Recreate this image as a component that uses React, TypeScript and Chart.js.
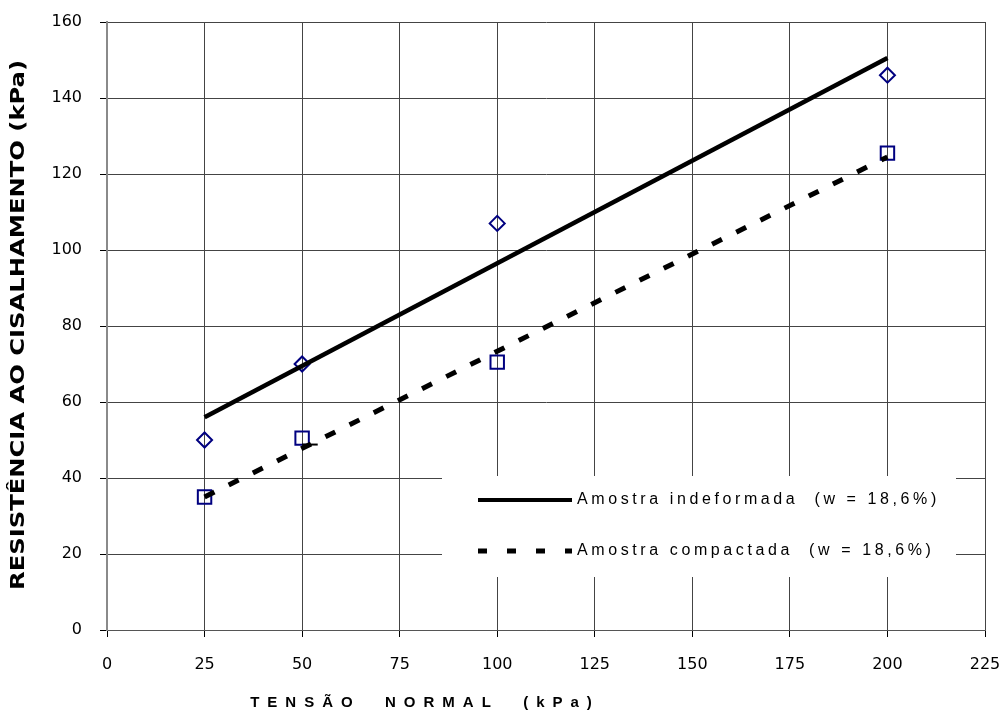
import React, { useEffect, useRef } from "react";
import { Chart, registerables } from "chart.js";

Chart.register(...registerables);

// ---- data ----
const normalStress = [25, 50, 100, 200];
const shearUndisturbed = [50, 70, 107, 146];
const shearCompacted = [35, 50.5, 70.5, 125.5];
const trendX = [25, 200];
const trendUndisturbed = [56, 150.5];
const trendCompacted = [35, 124.5];
const stubX = [50, 54];
const stubY = [48.8, 48.8];
const xTicks = [0, 25, 50, 75, 100, 125, 150, 175, 200, 225];
const yTicks = [0, 20, 40, 60, 80, 100, 120, 140, 160];
const legendLabels = ["Amostra indeformada  (w = 18,6%)", "Amostra compactada  (w = 18,6%)"];
const xTitle = "TENSÃO  NORMAL  (kPa)";
const yTitle = "RESISTÊNCIA AO CISALHAMENTO (kPa)";

const NAVY = "#000080";
const GRID = "#444444";

const pts = (xs: number[], ys: number[]) => xs.map((x, i) => ({ x, y: ys[i] }));

const overlayPlugin = {
  id: "overlay",
  afterDraw(chart: any) {
    const ctx: CanvasRenderingContext2D = chart.ctx;
    ctx.save();
    // legend box
    ctx.fillStyle = "#ffffff";
    ctx.fillRect(442, 476, 514, 101);
    ctx.strokeStyle = "#000";
    ctx.lineWidth = 4;
    ctx.lineCap = "butt";
    ctx.beginPath();
    ctx.moveTo(478, 500);
    ctx.lineTo(572, 500);
    ctx.stroke();
    ctx.setLineDash([9, 20]);
    ctx.lineWidth = 5;
    ctx.beginPath();
    ctx.moveTo(478, 551);
    ctx.lineTo(572, 551);
    ctx.stroke();
    ctx.setLineDash([]);
    ctx.fillStyle = "#000";
    ctx.font = "16px 'Liberation Sans', Arial, sans-serif";
    ctx.textBaseline = "middle";
    ctx.textAlign = "left";
    (ctx as any).letterSpacing = "3.6px";
    ctx.fillText(legendLabels[0], 577, 500);
    ctx.fillText(legendLabels[1], 577, 551);

    // x title
    ctx.font = "bold 15px 'Liberation Sans', Arial, sans-serif";
    (ctx as any).letterSpacing = "8px";
    ctx.textAlign = "center";
    ctx.fillText(xTitle, 425, 703);

    // y title
    (ctx as any).letterSpacing = "0px";
    ctx.font = "bold 19px 'DejaVu Sans Condensed', 'DejaVu Sans', sans-serif";
    const w = ctx.measureText(yTitle).width;
    ctx.translate(19, 325);
    ctx.rotate(-Math.PI / 2);
    ctx.scale(530 / w, 1);
    ctx.fillText(yTitle, 0, 0);
    ctx.restore();
  },
};

export default function App() {
  const ref = useRef<HTMLCanvasElement | null>(null);
  useEffect(() => {
    if (!ref.current) return;
    const chart = new Chart(ref.current, {
      type: "scatter",
      data: {
        datasets: [
          {
            label: "trend indeformada",
            data: pts(trendX, trendUndisturbed),
            showLine: true,
            borderColor: "#000",
            borderWidth: 4.5,
            pointRadius: 0,
          },
          {
            label: "trend compactada",
            data: pts(trendX, trendCompacted),
            showLine: true,
            borderColor: "#000",
            borderWidth: 5,
            borderDash: [11, 16],
            pointRadius: 0,
          },
          {
            label: "stub",
            data: pts(stubX, stubY),
            showLine: true,
            borderColor: "#000",
            borderWidth: 2,
            pointRadius: 0,
          },
          {
            label: legendLabels[0],
            data: pts(normalStress, shearUndisturbed),
            pointStyle: "rectRot",
            pointRadius: 7.5,
            borderColor: NAVY,
            backgroundColor: "rgba(0,0,0,0)",
            borderWidth: 2,
          },
          {
            label: legendLabels[1],
            data: pts(normalStress, shearCompacted),
            pointStyle: "rect",
            pointRadius: 9.5,
            borderColor: NAVY,
            backgroundColor: "rgba(0,0,0,0)",
            borderWidth: 2,
          },
        ],
      },
      options: {
        responsive: false,
        animation: false,
        layout: { padding: { top: 22, right: 20, left: 0, bottom: 0 } },
        plugins: { legend: { display: false }, tooltip: { enabled: false }, title: { display: false } },
        scales: {
          x: {
            type: "linear",
            min: 0,
            max: 225,
            afterBuildTicks: (s: any) => {
              s.ticks = xTicks.map((v) => ({ value: v }));
            },
            afterFit: (s: any) => {
              s.height = 83;
              s.paddingLeft = 0;
              s.paddingRight = 0;
            },
            grid: { color: GRID, lineWidth: 1, tickLength: 7, tickColor: "#000" },
            border: { color: "#555", width: 1 },
            ticks: {
              padding: 18,
              color: "#000",
              font: { family: "'DejaVu Sans', sans-serif", size: 16 },
            },
          },
          y: {
            type: "linear",
            min: 0,
            max: 160,
            afterBuildTicks: (s: any) => {
              s.ticks = yTicks.map((v) => ({ value: v }));
            },
            afterFit: (s: any) => {
              s.width = 107;
              s.paddingTop = 0;
              s.paddingBottom = 0;
            },
            grid: { color: GRID, lineWidth: 1, tickLength: 7, tickColor: "#000" },
            border: { color: "#8a8a8a", width: 2 },
            ticks: {
              padding: 18,
              color: "#000",
              font: { family: "'DejaVu Sans', sans-serif", size: 16 },
            },
          },
        },
      },
      plugins: [overlayPlugin],
    });
    return () => chart.destroy();
  }, []);
  return (
    <div style={{ position: "fixed", left: 0, top: 0, width: 1005, height: 713, background: "#fff" }}>
      <canvas ref={ref} width={1005} height={713} style={{ display: "block" }} />
    </div>
  );
}
